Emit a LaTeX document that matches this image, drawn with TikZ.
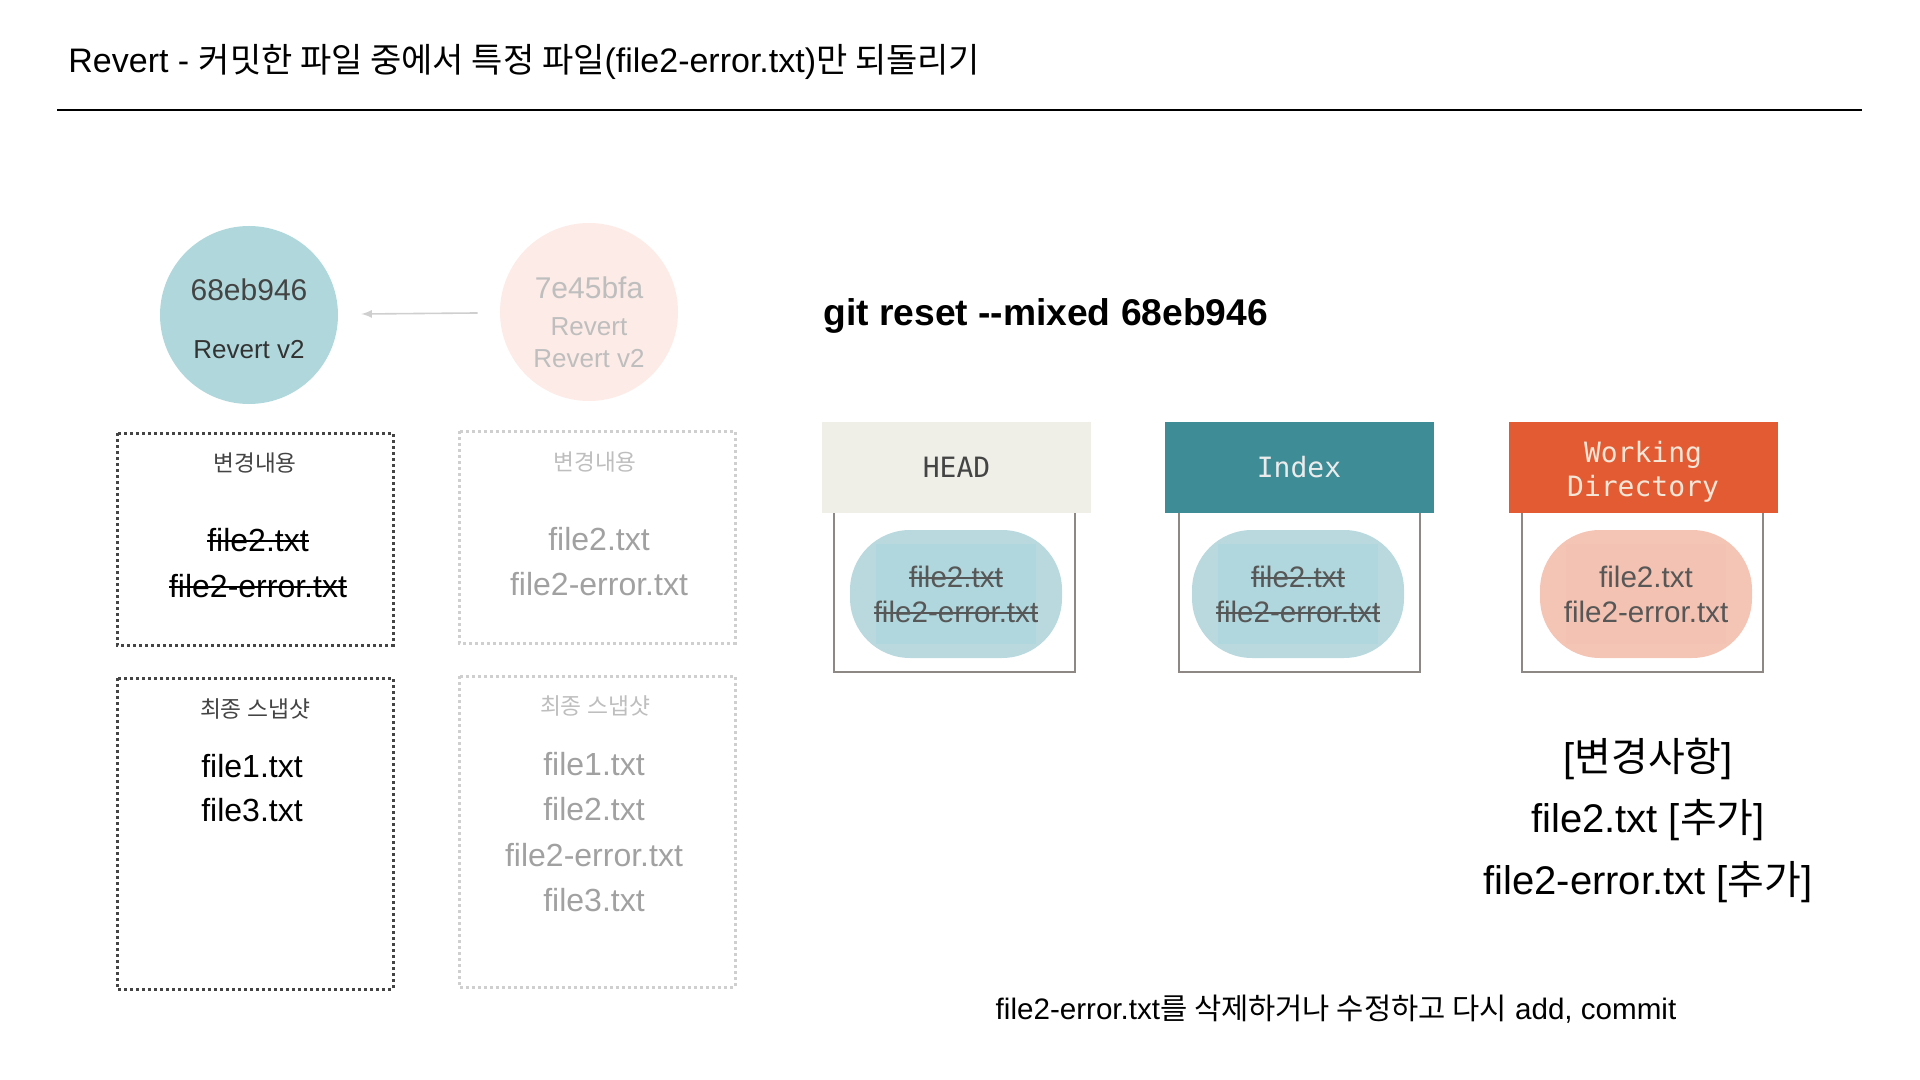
\documentclass[tikz,border=0pt]{standalone}
\usepackage{fontspec}
\setmainfont{Liberation Sans}
\setmonofont{DejaVu Sans Mono}
\newfontfamily\kr{Noto Sans CJK KR}
\usetikzlibrary{arrows.meta}

\definecolor{commitNew}{HTML}{B0D8DC}
\definecolor{commitOld}{HTML}{FCEBE6}
\definecolor{fadeText}{HTML}{BEBEBE}
\definecolor{fadeLine}{HTML}{CFCFCF}
\definecolor{darkText}{HTML}{444444}
\definecolor{headBg}{HTML}{EFEFE8}
\definecolor{indexBg}{HTML}{3D8C96}
\definecolor{wdBg}{HTML}{E35B32}
\definecolor{wdText}{HTML}{F5E6D8}
\definecolor{blobBlue}{HTML}{B9D9DE}
\definecolor{blobBlueIn}{HTML}{B0D7DD}
\definecolor{blobRed}{HTML}{F4C4B5}
\definecolor{blobRedIn}{HTML}{F3C2B2}
\definecolor{frameGray}{HTML}{8E8884}

% strike-through text
\newcommand\strk[1]{\setbox0\hbox{#1}\rlap{\copy0}\rule[0.3em]{\wd0}{0.07em}}
\newcommand\fsz[1]{\fontsize{#1}{1.2\dimexpr#1pt\relax}\selectfont}

\tikzset{
  commit/.style={circle, minimum size=89pt, inner sep=0pt},
  dotbox/.style={line width=1.5pt, dash pattern=on 1.5pt off 1.5pt},
  area/.style={minimum width=134.5pt, minimum height=45.5pt, inner sep=0pt, font=\ttfamily\fsz{14}, align=center},
  blob/.style={rounded corners=30pt, minimum width=106pt, minimum height=64pt, inner sep=0pt},
  blobin/.style={minimum width=80pt, minimum height=50pt, inner sep=0pt},
  frame/.style={frameGray, line width=1pt},
}

\begin{document}
\begin{tikzpicture}[x=0.5pt, y=-0.5pt, >=latex]
  \useasboundingbox (0,0) rectangle (1920,1080);

  %%% Title
  \node[anchor=west, inner sep=0pt, font=\fsz{17}] (title) at (68,62)
    {Revert - {\kr 커밋한 파일 중에서 특정 파일}(file2-error.txt){\kr 만 되돌리기}};
  \draw[line width=0.8pt] (57,110) -- (1862,110);

  %%% Commits
  \node[commit, fill=commitNew] (c1) at (249,315) {};
  \node[commit, fill=commitOld] (c2) at (589,312) {};
  \node[font=\fsz{15}, text=darkText] (c1id) at (249,290) {68eb946};
  \node[font=\fsz{13}, text=black!80] (c1msg) at (249,350) {Revert v2};
  \node[font=\fsz{15}, text=fadeText] (c2id) at (589,288) {7e45bfa};
  \node[font=\fsz{13}, text=fadeText, align=center] (c2msg) at (589,343) {Revert\\[0.5pt]Revert v2};
  \draw[->, fadeLine, line width=0.8pt, shorten >=11.5pt, shorten <=11pt] (c2) -- (c1);

  % Changes
  \draw[dotbox, darkText] (117,433) rectangle (393,645);
  \node[font=\kr\fsz{11.3}, text=darkText] (ch1) at (255,463) {변경내용};
  \node[font=\fsz{16}] (ch1a) at (258,540) {\strk{file2.txt}};
  \node[font=\fsz{16}] (ch1b) at (258,586) {\strk{file2-error.txt}};

  \draw[dotbox, fadeLine] (459,431) rectangle (735,643);
  \node[font=\kr\fsz{11.3}, text=fadeText] (ch2) at (595,462) {변경내용};
  \node[font=\fsz{16}, text=fadeText!85!black] (ch2a) at (599,539) {file2.txt};
  \node[font=\fsz{16}, text=fadeText!85!black] (ch2b) at (599,584) {file2-error.txt};

  % Snapshots
  \draw[dotbox, darkText] (117,678) rectangle (393,989);
  \node[font=\kr\fsz{11.4}, text=darkText] (sn1) at (255,709) {최종 스냅샷};
  \node[font=\fsz{16}] (sn1a) at (252,766) {file1.txt};
  \node[font=\fsz{16}] (sn1b) at (252,810) {file3.txt};

  \draw[dotbox, fadeLine] (459,676) rectangle (735,987);
  \node[font=\kr\fsz{11.4}, text=fadeText] (sn2) at (595,706) {최종 스냅샷};
  \foreach \f/\y in {file1.txt/764, file2.txt/809, file2-error.txt/855, file3.txt/900}
    \node[font=\fsz{16}, text=fadeText!85!black] at (594,\y) {\f};

  %%% git reset
  \node[anchor=west, inner sep=0pt, font=\bfseries\fsz{18.6}] (cmd) at (823,316) {git reset -{}-mixed 68eb946};

  % HEAD
  \draw[frame] (834,513) -- (834,672) -- (1075,672) -- (1075,513);
  \node[area, fill=headBg, text=darkText] (head) at (956.5,467.5) {HEAD};
  \node[blob, fill=blobBlue] (headblob) at (956,594) {};
  \node[blobin, fill=blobBlueIn] at (headblob) {};
  \node[font=\fsz{14.8}, text=darkText!90] (h1) at (956,577) {\strk{file2.txt}};
  \node[font=\fsz{14.8}, text=darkText!90] (h2) at (956,612) {\strk{file2-error.txt}};

  % Index
  \draw[frame] (1179,513) -- (1179,672) -- (1420,672) -- (1420,513);
  \node[area, fill=indexBg, text=white!92!black] (index) at (1299,467.5) {Index};
  \node[blob, fill=blobBlue] (indexblob) at (1298,594) {};
  \node[blobin, fill=blobBlueIn] at (indexblob) {};
  \node[font=\fsz{14.8}, text=darkText!90] (i1) at (1298,577) {\strk{file2.txt}};
  \node[font=\fsz{14.8}, text=darkText!90] (i2) at (1298,612) {\strk{file2-error.txt}};

  % Working Directory
  \draw[frame] (1522,513) -- (1522,672) -- (1763,672) -- (1763,513);
  \node[area, fill=wdBg, text=wdText] (wd) at (1643,467.5) {};
  \node[font=\ttfamily\fsz{14}, text=wdText, align=center, inner sep=0pt] (wdlabel) at (1643,472) {Working\\[0pt]Directory};
  \node[blob, fill=blobRed] (wdblob) at (1646,594) {};
  \node[blobin, fill=blobRedIn] at (wdblob) {};
  \node[font=\fsz{14.8}, text=darkText!90] (w1) at (1646,577) {file2.txt};
  \node[font=\fsz{14.8}, text=darkText!90] (w2) at (1646,612) {file2-error.txt};

  %%% Result
  \node[font=\fsz{20}] (res0) at (1648,759) {[{\kr 변경사항}]};
  \node[font=\fsz{20}] (res1) at (1648,820) {file2.txt [{\kr 추가}]};
  \node[font=\fsz{20}] (res2) at (1648,882) {file2-error.txt [{\kr 추가}]};

  \node[font=\fsz{14.8}] (note) at (1336,1009)
    {file2-error.txt{\kr 를 삭제하거나 수정하고 다시} add, commit};
\end{tikzpicture}
\end{document}
